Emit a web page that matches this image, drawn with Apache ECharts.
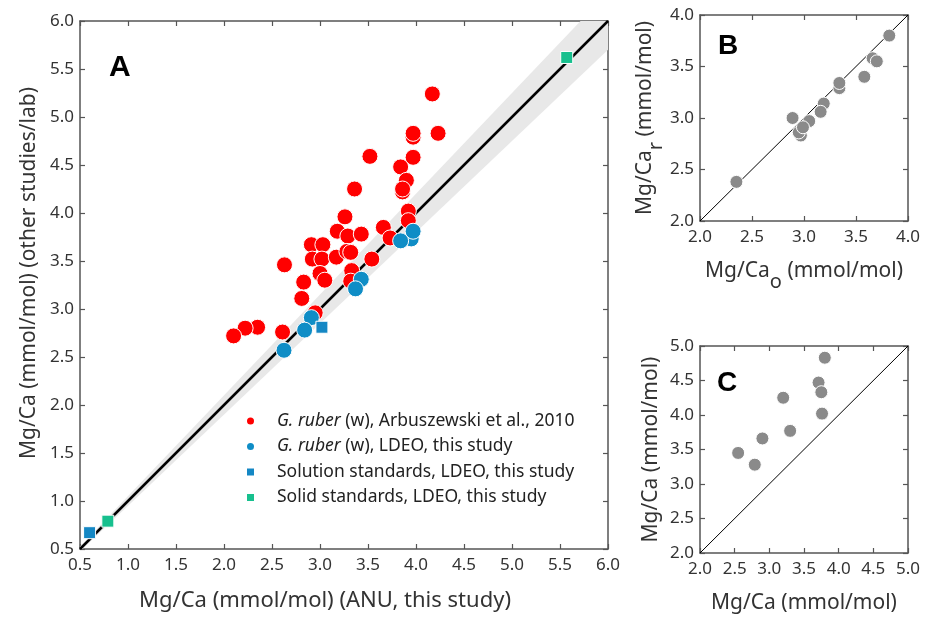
<!DOCTYPE html>
<html>
<head>
<meta charset="utf-8">
<script src="https://cdn.jsdelivr.net/npm/echarts@6/dist/echarts.min.js"></script>
<style>
  html, body { margin: 0; padding: 0; background: #fff; }
  #chart { width: 927px; height: 617px; }
</style>
</head>
<body>
<div id="chart"></div>
<script>
// panel A - [ANU, other lab]
var redA = [[4.17,5.24],[4.23,4.83],[3.97,4.79],[3.97,4.83],[3.52,4.59],[3.97,4.58],[3.84,4.48],
    [3.90,4.34],[3.86,4.22],[3.86,4.25],[3.36,4.25],[3.92,4.02],[3.92,3.92],[3.26,3.96],[3.66,3.85],
    [3.73,3.74],[3.18,3.81],[3.29,3.76],[3.43,3.78],[2.91,3.67],[3.03,3.67],[2.92,3.52],[3.02,3.52],
    [3.17,3.54],[3.28,3.60],[3.32,3.59],[3.54,3.52],[2.63,3.46],[3.00,3.37],[3.05,3.30],[3.33,3.40],
    [3.32,3.29],[2.83,3.28],[2.81,3.11],[2.95,2.96],[2.61,2.76],[2.35,2.81],[2.22,2.80],[2.10,2.72]];
var blueA = [[3.95,3.73],[3.97,3.81],[3.84,3.71],[3.43,3.31],[3.37,3.21],[2.91,2.91],[2.84,2.78],[2.625,2.57]];
var solutionA = [[0.60,0.67],[3.02,2.81]];
var solidA = [[0.79,0.79],[5.57,5.62]];
var lineA = [[0.5,0.5],[6,6]];
var bandLoA = [[0.5,0.475],[6,5.70]];
var bandHiA = [[0.5,0.525],[6,6.30]];

// panel B - original vs replicate
var grayB = [[3.82,3.80],[3.66,3.58],[3.70,3.55],[3.58,3.40],[3.34,3.29],[3.34,3.34],[3.19,3.14],
    [3.16,3.06],[3.05,2.97],[2.89,3.00],[2.97,2.83],[2.95,2.86],[2.99,2.91],[2.35,2.38]];
var lineB = [[2,2],[4,4]];

// panel C
var grayC = [[3.80,4.83],[3.71,4.47],[3.75,4.33],[3.20,4.25],[3.76,4.02],[3.30,3.77],[2.90,3.66],
    [2.55,3.45],[2.79,3.28]];
var lineC = [[2,2],[5,5]];

var legendNames = ['{i|G. ruber} (w), Arbuszewski et al., 2010', '{i|G. ruber} (w), LDEO, this study',
    'Solution standards, LDEO, this study', 'Solid standards, LDEO, this study'];

var FONT = 'Noto Sans';
var axisCol = '#555';

function fmt(v) { return v.toFixed(1); }

function mkX(grid, min, max, name, gap, show, size, pad) {
    return {
        type: 'value', gridIndex: grid, min: min, max: max, interval: 0.5,
        position: show ? 'bottom' : 'top',
        name: show ? name : '', nameLocation: 'middle', nameGap: gap,
        nameTextStyle: { fontFamily: FONT, fontSize: size || 21, color: '#333', padding: pad || 0, rich: {
            sub: { fontFamily: FONT, fontSize: 20, color: '#333', padding: [22, 0, 0, 0] } } },
        axisLine: { show: true, onZero: false, lineStyle: { color: axisCol, width: 1.5 } },
        axisTick: { show: true, inside: true, length: 5, lineStyle: { color: axisCol, width: 1.2 } },
        axisLabel: { show: show, formatter: fmt, fontFamily: FONT, fontSize: 17, color: '#333', margin: 8 },
        splitLine: { show: false }
    };
}
function mkY(grid, min, max, name, gap, show, size, pad) {
    return {
        type: 'value', gridIndex: grid, min: min, max: max, interval: 0.5,
        position: show ? 'left' : 'right',
        name: show ? name : '', nameLocation: 'middle', nameGap: gap, nameRotate: 90,
        nameTextStyle: { fontFamily: FONT, fontSize: size || 21, color: '#333', padding: pad || 0, rich: {
            sub: { fontFamily: FONT, fontSize: 20, color: '#333', padding: [22, 0, 0, 0] } } },
        axisLine: { show: true, onZero: false, lineStyle: { color: axisCol, width: 1.5 } },
        axisTick: { show: true, inside: true, length: 5, lineStyle: { color: axisCol, width: 1.2 } },
        axisLabel: { show: show, formatter: fmt, fontFamily: FONT, fontSize: 17, color: '#333', margin: 6 },
        splitLine: { show: false }
    };
}

var chart = echarts.init(document.getElementById('chart'), null, { renderer: 'canvas' });

var option = {
    animation: false,
    backgroundColor: '#fff',
    grid: [
        { left: 80, top: 21, width: 528, height: 528 },
        { left: 700, top: 15, width: 208, height: 206 },
        { left: 700, top: 346, width: 208, height: 207 }
    ],
    xAxis: [
        mkX(0, 0.5, 6, 'Mg/Ca (mmol/mol) (ANU, this study)', 41, true, 22, [0, 38, 0, 0]),
        mkX(0, 0.5, 6, '', 0, false),
        mkX(1, 2, 4, 'Mg/Ca{sub|o} (mmol/mol)', 29, true),
        mkX(1, 2, 4, '', 0, false),
        mkX(2, 2, 5, 'Mg/Ca (mmol/mol)', 40, true),
        mkX(2, 2, 5, '', 0, false)
    ],
    yAxis: [
        mkY(0, 0.5, 6, 'Mg/Ca (mmol/mol) (other studies/lab)', 38, true, 21, [0, 0, 0, 24]),
        mkY(0, 0.5, 6, '', 0, false),
        mkY(1, 2, 4, 'Mg/Ca{sub|r} (mmol/mol)', 34, true),
        mkY(1, 2, 4, '', 0, false),
        mkY(2, 2, 5, 'Mg/Ca (mmol/mol)', 38, true),
        mkY(2, 2, 5, '', 0, false)
    ],
    legend: {
        left: 247, top: 411, orient: 'vertical', padding: 0,
        itemWidth: 7, itemHeight: 7, itemGap: 5.5,
        selectedMode: false,
        itemStyle: { borderWidth: 0 },
        data: [
            { name: 'red', icon: 'circle' },
            { name: 'blue', icon: 'circle' },
            { name: 'sol', icon: 'rect' },
            { name: 'solid', icon: 'rect' }
        ],
        formatter: function (n) {
            return { red: legendNames[0], blue: legendNames[1], sol: legendNames[2], solid: legendNames[3] }[n];
        },
        textStyle: {
            fontFamily: FONT, fontSize: 17.5, color: '#222', lineHeight: 20, padding: [0, 0, 0, 18],
            rich: { i: { fontFamily: FONT, fontSize: 17.5, fontStyle: 'italic', color: '#222' } }
        }
    },
    graphic: [
        { type: 'text', left: 109, top: 53, style: { text: 'A', font: 'bold 30px "Liberation Sans"', fill: '#000' } },
        { type: 'text', left: 718, top: 32, style: { text: 'B', font: 'bold 28px "Liberation Sans"', fill: '#000' } },
        { type: 'text', left: 717, top: 369, style: { text: 'C', font: 'bold 28px "Liberation Sans"', fill: '#000' } }
    ],
    series: [
        {
            name: 'band', type: 'custom', xAxisIndex: 0, yAxisIndex: 0, clip: true, silent: true,
            data: [0],
            renderItem: function (params, api) {
                var pts = [];
                bandLoA.forEach(function (p) { pts.push(api.coord(p)); });
                bandHiA.slice().reverse().forEach(function (p) { pts.push(api.coord(p)); });
                return { type: 'polygon', shape: { points: pts }, style: { fill: '#e8e8e8' } };
            },
            z: 1
        },
        {
            name: '1:1 A', type: 'line', xAxisIndex: 0, yAxisIndex: 0, data: lineA, symbol: 'none',
            lineStyle: { color: '#000', width: 2.5 }, z: 2, silent: true
        },
        {
            name: 'red', type: 'scatter', xAxisIndex: 0, yAxisIndex: 0, data: redA, symbolSize: 16,
            itemStyle: { color: '#ff0000', opacity: 1, borderColor: '#fff', borderWidth: 1 }, z: 3
        },
        {
            name: 'blue', type: 'scatter', xAxisIndex: 0, yAxisIndex: 0, data: blueA, symbolSize: 16,
            itemStyle: { color: '#0f8dc6', opacity: 1, borderColor: '#fff', borderWidth: 1 }, z: 4
        },
        {
            name: 'sol', type: 'scatter', xAxisIndex: 0, yAxisIndex: 0, data: solutionA, symbol: 'rect', symbolSize: 12,
            itemStyle: { color: '#1487c4', opacity: 1, borderColor: '#fff', borderWidth: 1 }, z: 5
        },
        {
            name: 'solid', type: 'scatter', xAxisIndex: 0, yAxisIndex: 0, data: solidA, symbol: 'rect', symbolSize: 12,
            itemStyle: { color: '#17c08e', opacity: 1, borderColor: '#fff', borderWidth: 1 }, z: 5
        },
        {
            name: '1:1 B', type: 'line', xAxisIndex: 2, yAxisIndex: 2, data: lineB, symbol: 'none',
            lineStyle: { color: '#000', width: 1 }, z: 2, silent: true
        },
        {
            name: 'B', type: 'scatter', xAxisIndex: 2, yAxisIndex: 2, data: grayB, symbolSize: 13,
            itemStyle: { color: '#8a8a8a', opacity: 1, borderColor: '#fff', borderWidth: 1 }, z: 3
        },
        {
            name: '1:1 C', type: 'line', xAxisIndex: 4, yAxisIndex: 4, data: lineC, symbol: 'none',
            lineStyle: { color: '#000', width: 1 }, z: 2, silent: true
        },
        {
            name: 'C', type: 'scatter', xAxisIndex: 4, yAxisIndex: 4, data: grayC, symbolSize: 13,
            itemStyle: { color: '#8a8a8a', opacity: 1, borderColor: '#fff', borderWidth: 1 }, z: 3
        }
    ]
};
chart.setOption(option);
</script>
</body>
</html>
